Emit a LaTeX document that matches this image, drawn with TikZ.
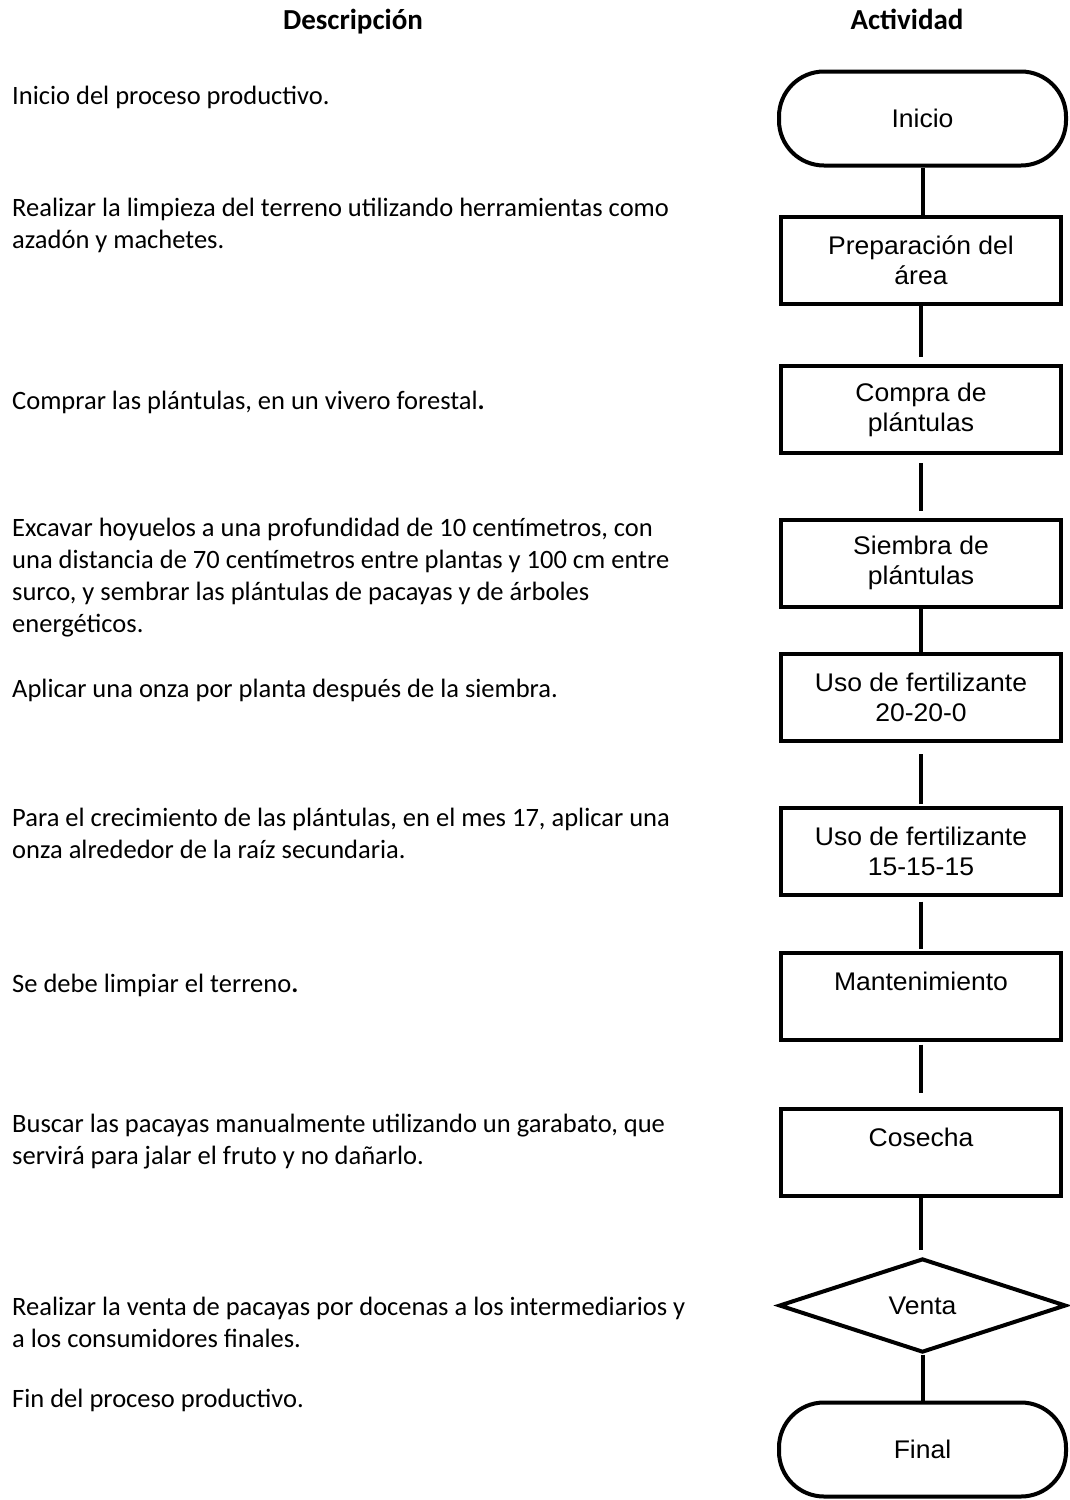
\documentclass[tikz,border=0pt]{standalone}
\usepackage{fontspec}
\setmainfont{Carlito}
\newfontfamily\boxfont{Liberation Sans}[FakeStretch=1.04]
\usetikzlibrary{shapes.geometric}
\begin{document}
\begin{tikzpicture}[x=1pt,y=-1pt,
  desc/.style={inner sep=0pt, anchor=base west, font=\fontsize{26.5}{32}\selectfont},
  head/.style={inner sep=0pt, anchor=base, font=\fontsize{29}{35}\selectfont\bfseries},
  procbox/.style={draw, line width=4pt, minimum width=280pt, minimum height=87pt, inner sep=0pt, align=center, font=\boxfont\fontsize{25.5}{30}\selectfont},
  term/.style={procbox, rounded corners=45pt, minimum width=287pt, minimum height=94pt},
  decision/.style={diamond, draw, line width=4pt, minimum width=287pt, minimum height=94pt, inner sep=0pt, font=\boxfont\fontsize{25.5}{30}\selectfont},
  conn/.style={line width=4pt}]
\useasboundingbox[fill=white] (0,0) rectangle (1070,1500);

% headers
\node[head] (h1) at (353,29) {Descripción};
\node[head] (h2) at (907,29) {Actividad};

% descriptions
\node[desc] (d1) at (12,104) {Inicio del proceso productivo.};
\node[desc] (d2a) at (12,216) {Realizar la limpieza del terreno utilizando herramientas como};
\node[desc] (d2b) at (12,248) {azadón y machetes.};
\node[desc] (d3) at (12,409) {Comprar las plántulas, en un vivero forestal\textbf{.}};
\node[desc] (d4a) at (12,536) {Excavar hoyuelos a una profundidad de 10 centímetros, con};
\node[desc] (d4b) at (12,568) {una distancia de 70 centímetros entre plantas y 100 cm entre};
\node[desc] (d4c) at (12,600) {surco, y sembrar las plántulas de pacayas y de árboles};
\node[desc] (d4d) at (12,632) {energéticos.};
\node[desc] (d5) at (12,697) {Aplicar una onza por planta después de la siembra.};
\node[desc] (d6a) at (12,826) {Para el crecimiento de las plántulas, en el mes 17, aplicar una};
\node[desc] (d6b) at (12,858) {onza alrededor de la raíz secundaria.};
\node[desc] (d7) at (12,992) {Se debe limpiar el terreno\textbf{.}};
\node[desc] (d8a) at (12,1132) {Buscar las pacayas manualmente utilizando un garabato, que};
\node[desc] (d8b) at (12,1164) {servirá para jalar el fruto y no dañarlo.};
\node[desc] (d9a) at (12,1315) {Realizar la venta de pacayas por docenas a los intermediarios y};
\node[desc] (d9b) at (12,1347) {a los consumidores finales.};
\node[desc] (d10) at (12,1407) {Fin del proceso productivo.};

% flowchart
\node[term] (inicio) at (922.5,118.5) {Inicio};
\node[procbox] (prep) at (921,260.5) {Preparación del\\área};
\node[procbox] (compra) at (921,409.5) {Compra de\\plántulas};
\node[procbox] (siembra) at (921,563) {Siembra de\\plántulas};
\node[procbox] (uso1) at (921,697.5) {Uso de fertilizante\\20-20-0};
\node[procbox] (uso2) at (921,851) {Uso de fertilizante\\15-15-15};
\node[procbox] (mant) at (921,996) {Mantenimiento\\\phantom{M}};
\node[procbox] (cosecha) at (921,1152.5) {Cosecha\\\phantom{C}};
\node[decision] (venta) at (922.5,1305.5) {Venta};
\node[term] (final) at (922.5,1449.5) {Final};

\draw[conn] (inicio.south) -- (inicio.south |- prep.north);
\draw[conn] (prep.south) -- ([yshift=7pt]prep.south |- compra.north);
\draw[conn] ([yshift=-8pt]compra.south) -- ([yshift=7pt]compra.south |- siembra.north);
\draw[conn] (siembra.south) -- ([yshift=-4pt]siembra.south |- uso1.north);
\draw[conn] ([yshift=-11pt]uso1.south) -- ([yshift=2pt]uso1.south |- uso2.north);
\draw[conn] ([yshift=-5pt]uso2.south) -- ([yshift=2pt]uso2.south |- mant.north);
\draw[conn] ([yshift=-3pt]mant.south) -- ([yshift=14pt]mant.south |- cosecha.north);
\draw[conn] (cosecha.south) -- ([yshift=7pt]cosecha.south |- venta.north);
\draw[conn] (venta.south) -- (venta.south |- final.north);
\end{tikzpicture}
\end{document}
